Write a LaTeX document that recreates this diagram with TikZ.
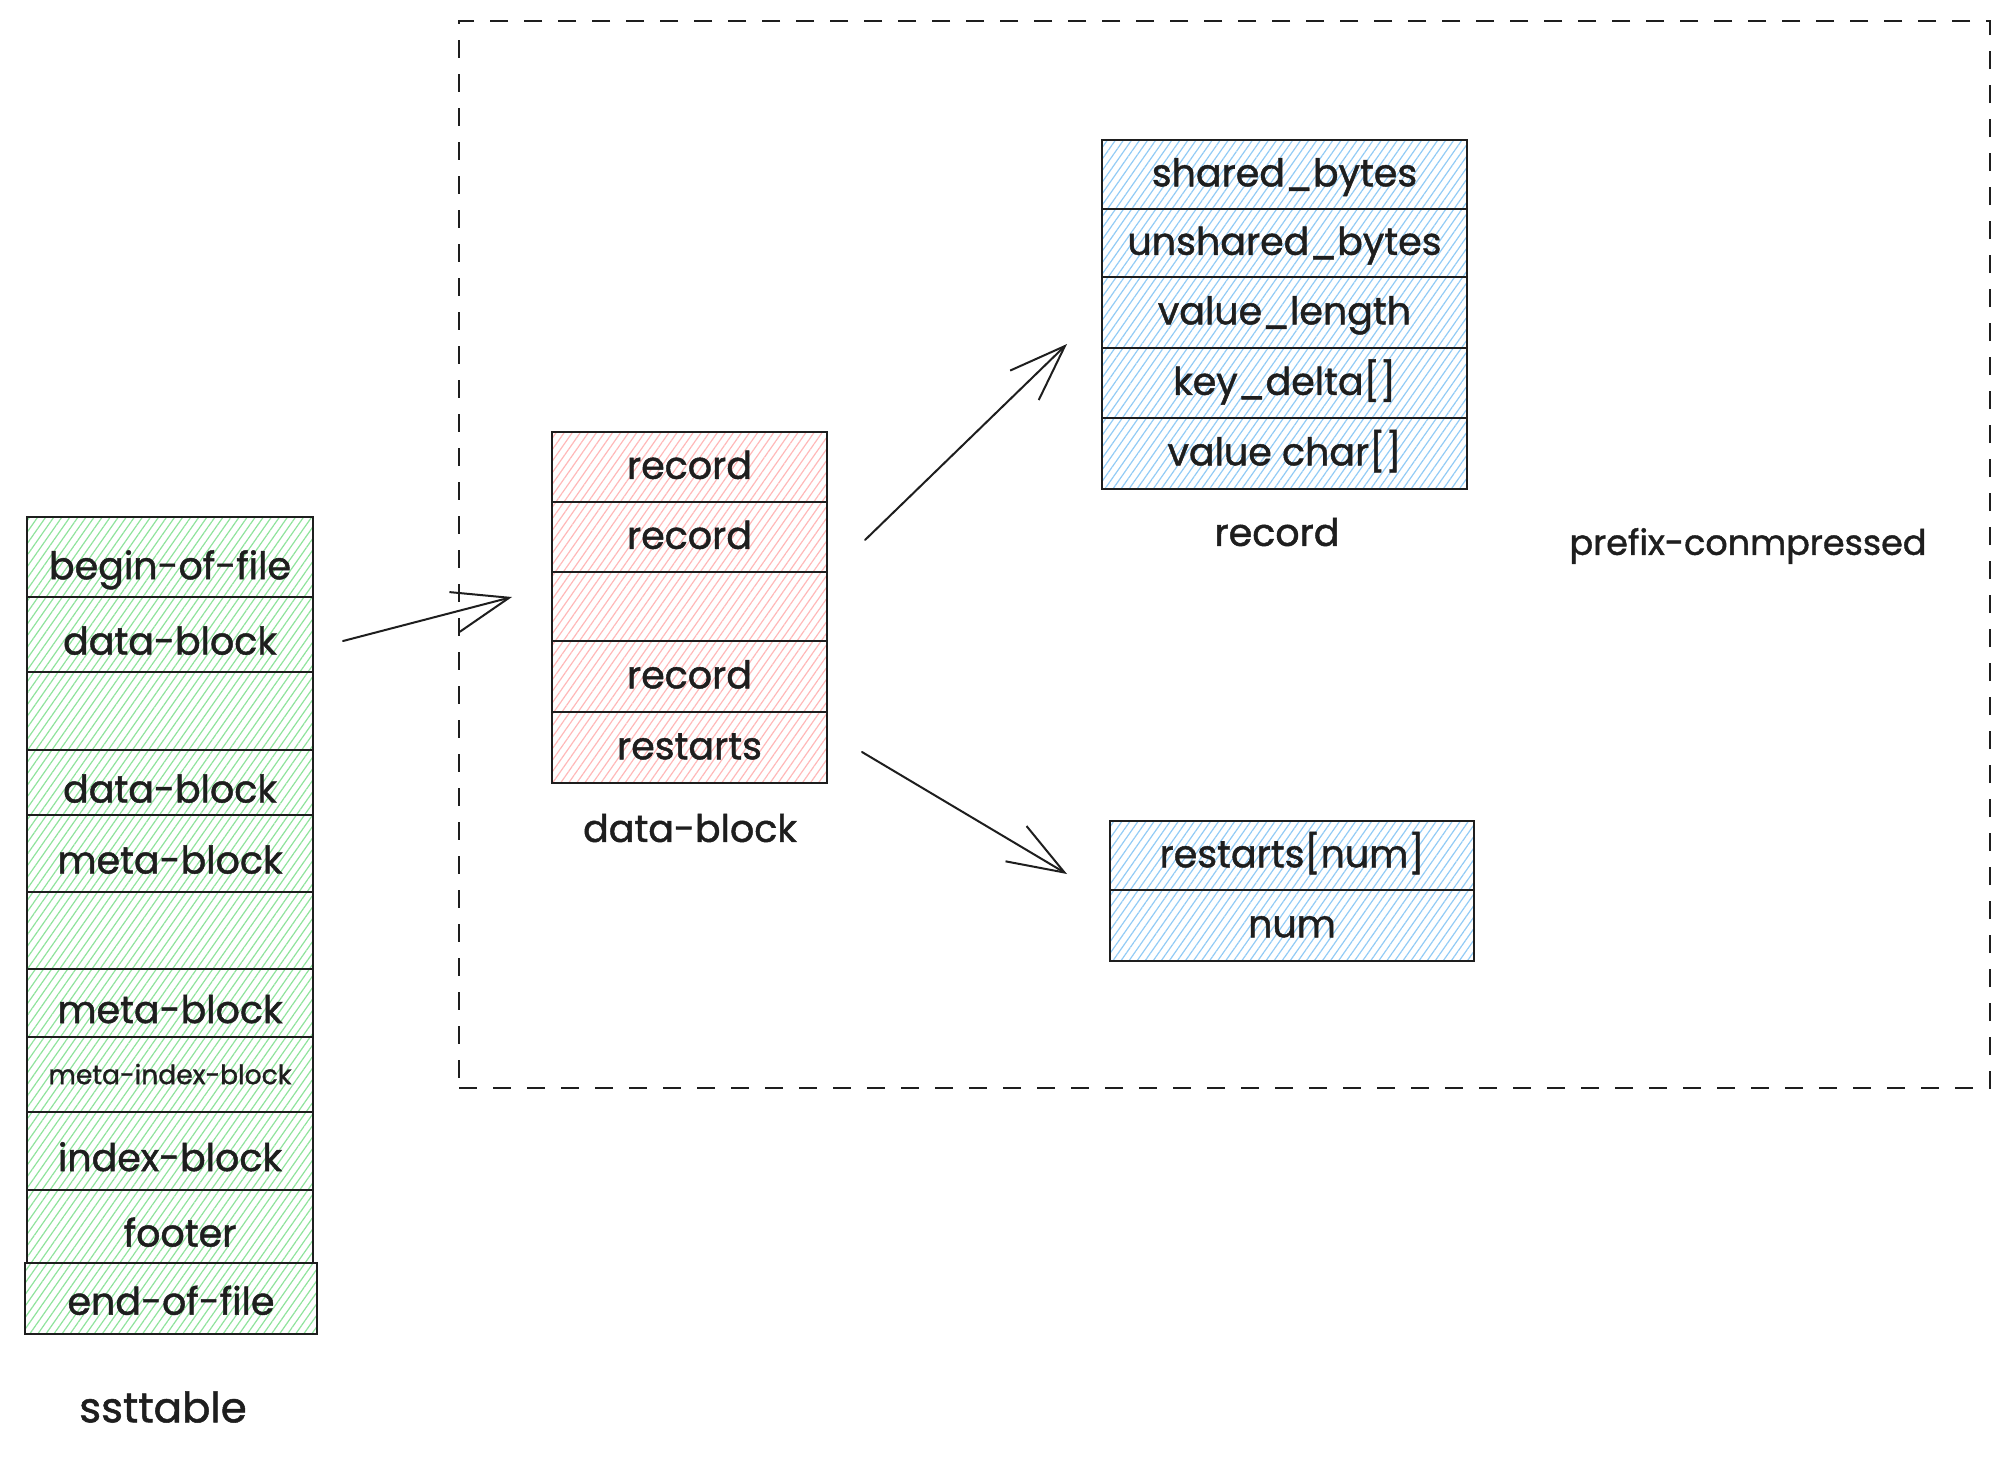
\documentclass[tikz,border=0pt]{standalone}
\usepackage{fontspec}
\setmainfont{Poppins}[FakeBold=1.2]
\usetikzlibrary{patterns.meta,arrows.meta}
\definecolor{ink}{HTML}{1E1E1E}
\definecolor{hgreen}{HTML}{8FE39C}
\definecolor{hred}{HTML}{FFB8B8}
\definecolor{hblue}{HTML}{92CBF5}
\tikzset{
  cell/.style={draw=ink, line width=1pt, inner sep=0pt, text=ink,
    font=\fontsize{19}{23}\selectfont, text height=2.6ex, text depth=0.45ex},
  hatch/.style={pattern={Lines[angle=55,distance=3.3pt,line width=0.6pt]}, pattern color=#1},
  gcell/.style={cell, hatch=hgreen, minimum width=143pt, text height=4.1ex},
  rcell/.style={cell, hatch=hred, minimum width=137.5pt},
  bcell/.style={cell, hatch=hblue, minimum width=182.5pt},
  lbl/.style={text=ink, inner sep=0pt, font=\fontsize{19}{23}\selectfont},
  arr/.style={draw=ink, line width=1pt, line cap=round, -{Straight Barb[angle=40:30pt, line width=1pt]}}
}
\begin{document}
\begin{tikzpicture}[x=0.5pt,y=-0.5pt]
\useasboundingbox (0,0) rectangle (2012,1457);

% dashed frame
\node[draw=ink, line width=1.3pt, dash pattern=on 9pt off 8pt, minimum width=765.5pt, minimum height=533.5pt, inner sep=0pt] (frame) at (1224.5,554.5) {};

% ssttable column
\node[gcell, minimum height=40pt, text height=4.5ex] (s1)  at (170,557)    {begin-of-file};
\node[gcell, minimum height=37.5pt] (s2)  at (170,634.5)  {data-block};
\node[gcell, minimum height=39pt]   (s3)  at (170,711)    {};
\node[gcell, minimum height=32.5pt] (s4)  at (170,782.5)  {data-block};
\node[gcell, minimum height=38.5pt] (s5)  at (170,853.5)  {meta-block};
\node[gcell, minimum height=38.5pt] (s6)  at (170,930.5)  {};
\node[gcell, minimum height=34pt]   (s7)  at (170,1003)   {meta-block};
\node[gcell, minimum height=37.5pt, font=\fontsize{13.3}{16}\selectfont, text height=2.2ex] (s8) at (170,1074.5) {meta-index-block};
\node[gcell, minimum height=39pt]   (s9)  at (170,1151)   {index-block};
\node[gcell, minimum height=36.5pt] (s10) at (170,1226.5) {\hspace*{10pt}footer};
\node[gcell, minimum height=35.5pt, minimum width=146pt, text height=3.4ex] (s11) at (171,1298.5) {end-of-file};
\node[lbl, font=\fontsize{21}{25}\selectfont] (sstlbl) at (163,1407) {ssttable};

% data-block column
\node[rcell, minimum height=35pt]   (d1) at (689.5,467)   {record};
\node[rcell, minimum height=35pt]   (d2) at (689.5,537)   {record};
\node[rcell, minimum height=34.5pt] (d3) at (689.5,606.5) {};
\node[rcell, minimum height=35.5pt] (d4) at (689.5,676.5) {record};
\node[rcell, minimum height=35.5pt] (d5) at (689.5,747.5) {restarts};
\node[lbl] (dlbl) at (690,828) {data-block};

% record column
\node[bcell, minimum height=34.5pt] (r1) at (1284.5,174.5) {shared\_bytes};
\node[bcell, minimum height=34pt]   (r2) at (1284.5,243)   {unshared\_bytes};
\node[bcell, minimum height=35.5pt] (r3) at (1284.5,312.5) {value\_length};
\node[bcell, minimum height=35pt]   (r4) at (1284.5,383)   {key\_delta[]};
\node[bcell, minimum height=35.5pt] (r5) at (1284.5,453.5) {value char[]};
\node[lbl] (rlbl) at (1277,532) {record};

% restarts column
\node[bcell, minimum width=182pt, minimum height=34.5pt] (t1) at (1292,855.5) {restarts[num]};
\node[bcell, minimum width=182pt, minimum height=35.5pt] (t2) at (1292,925.5) {num};

\node[lbl, font=\fontsize{17.5}{21}\selectfont] (plbl) at (1748,546) {prefix-conmpressed};

% arrows
\coordinate (a1s) at (343,641);
\coordinate (a1e) at (512,597);
\coordinate (a2s) at (865,540);
\coordinate (a2e) at (1067,344);
\coordinate (a3s) at (862,752);
\coordinate (a3e) at (1067,874);
\draw[arr] (a1s) -- (a1e);
\draw[arr] (a2s) -- (a2e);
\draw[arr] (a3s) -- (a3e);
\end{tikzpicture}
\end{document}
